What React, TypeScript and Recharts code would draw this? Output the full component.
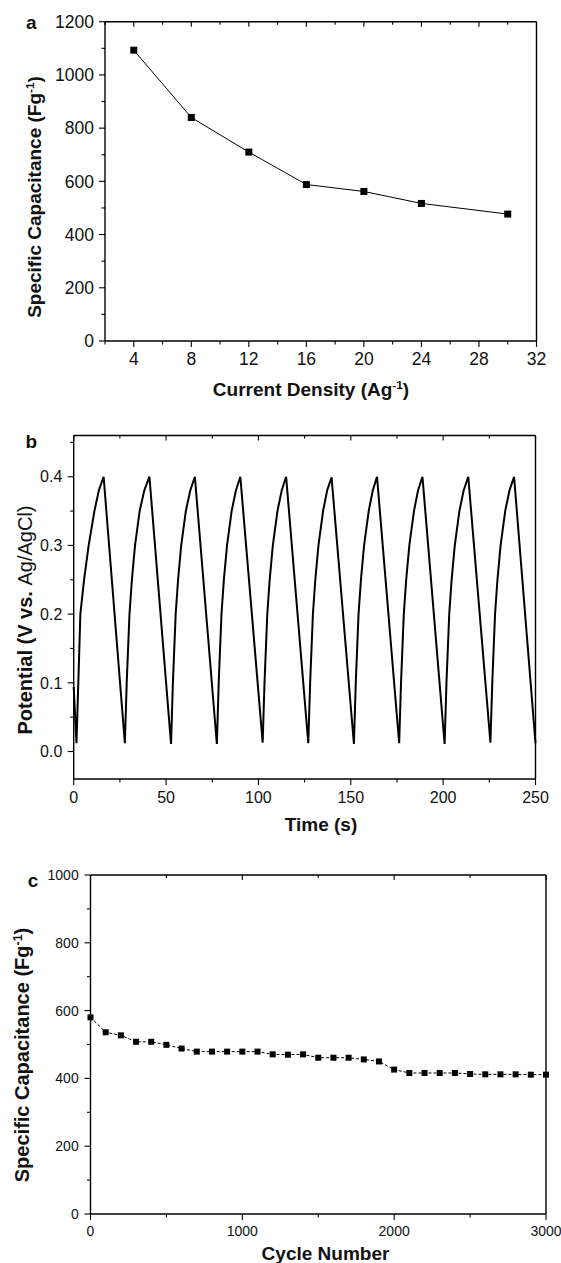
import React from "react";
import { LineChart, Line, XAxis, YAxis } from "recharts";

const FONT = "'Liberation Sans', Arial, Helvetica, sans-serif";

// panel a: capacitance vs current density
const densityA = [4, 8, 12, 16, 20, 24, 30];
const capacitanceA = [1093, 840, 710, 588, 562, 517, 477];
const aXTicks = [2, 4, 6, 8, 10, 12, 14, 16, 18, 20, 22, 24, 26, 28, 30, 32];
const aXMajor = [4, 8, 12, 16, 20, 24, 28, 32];
const aYTicks = [0, 100, 200, 300, 400, 500, 600, 700, 800, 900, 1000, 1100, 1200];
const aYMajor = [0, 200, 400, 600, 800, 1000, 1200];

// panel b: charge/discharge curve
const timeB = [
  0, 1.5, 2.5, 3.6, 5.6, 8.1, 11.2, 13.6, 16.2,
  27.7, 28.7, 30.2, 31.5, 33.2, 35.7, 38.2, 41.0,
  52.7, 53.7, 55.2, 56.5, 58.2, 60.7, 63.1, 65.6,
  77.5, 78.5, 80.0, 81.3, 83.0, 85.5, 87.8, 90.2,
  102.3, 103.3, 104.8, 106.1, 107.8, 110.3, 112.6, 115.0,
  127.0, 128.0, 129.5, 130.8, 132.5, 135.0, 137.2, 139.6,
  151.7, 152.7, 154.2, 155.5, 157.2, 159.7, 161.9, 164.2,
  176.2, 177.2, 178.7, 180.0, 181.7, 184.2, 186.4, 188.8,
  200.8, 201.8, 203.3, 204.6, 206.3, 208.8, 211.1, 213.6,
  225.6, 226.6, 228.1, 229.4, 231.1, 233.6, 235.9, 238.4,
  250,
];
const potentialB = [
  0.094, 0.012, 0.1, 0.2, 0.25, 0.3, 0.35, 0.38, 0.4,
  0.012, 0.1, 0.2, 0.25, 0.3, 0.35, 0.38, 0.4,
  0.011, 0.1, 0.2, 0.25, 0.3, 0.35, 0.38, 0.4,
  0.011, 0.1, 0.2, 0.25, 0.3, 0.35, 0.38, 0.4,
  0.013, 0.1, 0.2, 0.25, 0.3, 0.35, 0.38, 0.4,
  0.012, 0.1, 0.2, 0.25, 0.3, 0.35, 0.38, 0.399,
  0.011, 0.1, 0.2, 0.25, 0.3, 0.35, 0.38, 0.4,
  0.012, 0.1, 0.2, 0.25, 0.3, 0.35, 0.38, 0.4,
  0.011, 0.1, 0.2, 0.25, 0.3, 0.35, 0.38, 0.4,
  0.013, 0.1, 0.2, 0.25, 0.3, 0.35, 0.38, 0.4,
  0.012,
];
const bXTicks = [0, 25, 50, 75, 100, 125, 150, 175, 200, 225, 250];
const bXMajor = [0, 50, 100, 150, 200, 250];
const bYTicks = [0, 0.05, 0.1, 0.15, 0.2, 0.25, 0.3, 0.35, 0.4, 0.45];
const bYMajor = [0, 0.1, 0.2, 0.3, 0.4];

// panel c: cycling stability
const cyclesC = [
  0, 100, 200, 300, 400, 500, 600, 700, 800, 900, 1000, 1100, 1200, 1300, 1400, 1500,
  1600, 1700, 1800, 1900, 2000, 2100, 2200, 2300, 2400, 2500, 2600, 2700, 2800, 2900, 3000,
];
const capacitanceC = [
  580, 536, 527, 508, 508, 499, 488, 479, 479, 479, 479, 479, 471, 470, 471, 461,
  461, 461, 456, 450, 426, 416, 416, 416, 416, 413, 412, 412, 412, 411, 411,
];
const cXTicks = [0, 500, 1000, 1500, 2000, 2500, 3000];
const cXMajor = [0, 1000, 2000, 3000];
const cYTicks = [0, 100, 200, 300, 400, 500, 600, 700, 800, 900, 1000];
const cYMajor = [0, 200, 400, 600, 800, 1000];

const dataA = densityA.map((x, i) => ({ x, y: capacitanceA[i] }));
const dataB = timeB.map((x, i) => ({ x, y: potentialB[i] }));
const dataC = cyclesC.map((x, i) => ({ x, y: capacitanceC[i] }));

type Side = "bottom" | "left" | "top" | "right";

function isMajor(v: number, majors: number[]) {
  return majors.some((m) => Math.abs(m - v) < 1e-9);
}

function makeTick(side: Side, majors: number[], fontSize: number, gap: number, fmt: (v: number) => string = String) {
  return (props: any) => {
    const { x, y, payload } = props;
    const v = payload.value as number;
    const major = isMajor(v, majors);
    const outer = major ? 6 : 3.5;
    const inner = major ? 5 : 3;
    const sw = 1.1;
    if (side === "bottom") {
      return (
        <g>
          <line x1={x} y1={y} x2={x} y2={y + outer} stroke="#000" strokeWidth={sw} />
          {major && (
            <text x={x} y={y + gap} textAnchor="middle" fontSize={fontSize} fontFamily={FONT} fill="#111">
              {fmt(v)}
            </text>
          )}
        </g>
      );
    }
    if (side === "left") {
      return (
        <g>
          <line x1={x - outer} y1={y} x2={x} y2={y} stroke="#000" strokeWidth={sw} />
          {major && (
            <text x={x - gap} y={y + fontSize * 0.36} textAnchor="end" fontSize={fontSize} fontFamily={FONT} fill="#111">
              {fmt(v)}
            </text>
          )}
        </g>
      );
    }
    if (side === "top") {
      return <line x1={x} y1={y} x2={x} y2={y + inner} stroke="#000" strokeWidth={sw} />;
    }
    return <line x1={x - inner} y1={y} x2={x} y2={y} stroke="#000" strokeWidth={sw} />;
  };
}

const axisLine = { stroke: "#000", strokeWidth: 1.4 };

function squareDot(size: number) {
  return (p: any) => (
    <rect
      key={`sq-${p.index}`}
      x={p.cx - size / 2}
      y={p.cy - size / 2}
      width={size}
      height={size}
      fill="#000"
    />
  );
}

interface FrameProps {
  height: number;
  // plot-area edges measured from the chart's own top-left corner
  plot: { top: number; right: number; bottom: number; left: number };
  data: { x: number; y: number }[];
  xDomain: [number, number];
  yDomain: [number, number];
  xTicks: number[];
  xMajor: number[];
  yTicks: number[];
  yMajor: number[];
  fontSize: number;
  xGap: number;
  yGap: number;
  yFmt?: (v: number) => string;
  children: React.ReactNode;
}

function Frame(p: FrameProps) {
  // each axis is 1px thick, so margins lose that pixel
  const margin = {
    top: p.plot.top - 1,
    left: p.plot.left - 1,
    right: 561 - p.plot.right - 1,
    bottom: p.height - p.plot.bottom - 1,
  };
  return (
    <LineChart width={561} height={p.height} data={p.data} margin={margin}>
      <XAxis
        xAxisId="b"
        type="number"
        dataKey="x"
        domain={p.xDomain}
        ticks={p.xTicks}
        interval={0}
        height={1}
        tickSize={0}
        tickMargin={0}
        tickLine={false}
        axisLine={axisLine}
        tick={makeTick("bottom", p.xMajor, p.fontSize, p.xGap)}
      />
      <XAxis
        xAxisId="t"
        orientation="top"
        type="number"
        dataKey="x"
        domain={p.xDomain}
        ticks={p.xTicks}
        interval={0}
        height={1}
        tickSize={0}
        tickMargin={0}
        tickLine={false}
        axisLine={axisLine}
        tick={makeTick("top", p.xMajor, p.fontSize, 0)}
      />
      <YAxis
        yAxisId="l"
        type="number"
        domain={p.yDomain}
        ticks={p.yTicks}
        interval={0}
        width={1}
        tickSize={0}
        tickMargin={0}
        tickLine={false}
        axisLine={axisLine}
        tick={makeTick("left", p.yMajor, p.fontSize, p.yGap, p.yFmt)}
      />
      <YAxis
        yAxisId="r"
        orientation="right"
        type="number"
        domain={p.yDomain}
        ticks={p.yTicks}
        interval={0}
        width={1}
        tickSize={0}
        tickMargin={0}
        tickLine={false}
        axisLine={axisLine}
        tick={makeTick("right", p.yMajor, p.fontSize, 0)}
      />
      {p.children}
    </LineChart>
  );
}

const txt: React.CSSProperties = {
  position: "absolute",
  fontFamily: FONT,
  fontWeight: "bold",
  color: "#111",
  whiteSpace: "nowrap",
  lineHeight: 1,
};

function Centered({ x, y, size, rotate, children, weight }: any) {
  return (
    <div
      style={{
        ...txt,
        left: x,
        top: y,
        fontSize: size,
        fontWeight: weight ?? "bold",
        transform: `translate(-50%, -50%)${rotate ? " rotate(-90deg)" : ""}`,
      }}
    >
      {children}
    </div>
  );
}

const Sup = ({ children }: { children: React.ReactNode }) => (
  <span style={{ fontSize: "0.62em", position: "relative", top: "-0.6em" }}>{children}</span>
);

export default function App() {
  return (
    <div style={{ position: "absolute", left: 0, top: 0, width: 561, height: 1263, background: "#fff", overflow: "hidden" }}>
      <div style={{ position: "absolute", left: 0, top: 0 }}>
        <Frame
          height={420}
          plot={{ top: 21.7, right: 536.5, bottom: 341, left: 105 }}
          data={dataA}
          xDomain={[2, 32]}
          yDomain={[0, 1200]}
          xTicks={aXTicks}
          xMajor={aXMajor}
          yTicks={aYTicks}
          yMajor={aYMajor}
          fontSize={17.5}
          xGap={24}
          yGap={11}
        >
          <Line
            xAxisId="b"
            yAxisId="l"
            dataKey="y"
            stroke="#000"
            strokeWidth={1}
            dot={squareDot(7)}
            activeDot={false}
            isAnimationActive={false}
          />
        </Frame>
      </div>
      <div style={{ position: "absolute", left: 0, top: 420 }}>
        <Frame
          height={420}
          plot={{ top: 15.5, right: 535.5, bottom: 359, left: 73.7 }}
          data={dataB}
          xDomain={[0, 250]}
          yDomain={[-0.04, 0.46]}
          xTicks={bXTicks}
          xMajor={bXMajor}
          yTicks={bYTicks}
          yMajor={bYMajor}
          fontSize={16}
          xGap={24.3}
          yGap={11.4}
          yFmt={(v) => v.toFixed(1)}
        >
          <Line
            xAxisId="b"
            yAxisId="l"
            dataKey="y"
            stroke="#000"
            strokeWidth={2}
            dot={false}
            activeDot={false}
            isAnimationActive={false}
          />
        </Frame>
      </div>
      <div style={{ position: "absolute", left: 0, top: 840 }}>
        <Frame
          height={423}
          plot={{ top: 35, right: 546, bottom: 374, left: 90.5 }}
          data={dataC}
          xDomain={[0, 3000]}
          yDomain={[0, 1000]}
          xTicks={cXTicks}
          xMajor={cXMajor}
          yTicks={cYTicks}
          yMajor={cYMajor}
          fontSize={14}
          xGap={22.3}
          yGap={11.8}
        >
          <Line
            xAxisId="b"
            yAxisId="l"
            dataKey="y"
            stroke="#000"
            strokeWidth={1}
            strokeDasharray="3 2"
            dot={squareDot(6)}
            activeDot={false}
            isAnimationActive={false}
          />
        </Frame>
      </div>

      {/* panel letters */}
      <Centered x={31.3} y={21.5} size={19}>a</Centered>
      <Centered x={31.3} y={441} size={19}>b</Centered>
      <Centered x={33} y={880} size={19}>c</Centered>

      {/* axis titles */}
      <Centered x={311} y={389} size={19}>
        Current Density (Ag<Sup>-1</Sup>)
      </Centered>
      <Centered x={34} y={197} size={19} rotate>
        Specific Capacitance (Fg<Sup>-1</Sup>)
      </Centered>
      <Centered x={321} y={824} size={19}>Time (s)</Centered>
      <Centered x={25} y={620} size={20} rotate>
        Potential (V vs. <span style={{ fontWeight: "normal" }}>Ag/AgCl)</span>
      </Centered>
      <Centered x={325.5} y={1253} size={19}>Cycle Number</Centered>
      <Centered x={21.5} y={1055} size={20} rotate>
        Specific Capacitance (Fg<Sup>-1</Sup>)
      </Centered>
    </div>
  );
}
